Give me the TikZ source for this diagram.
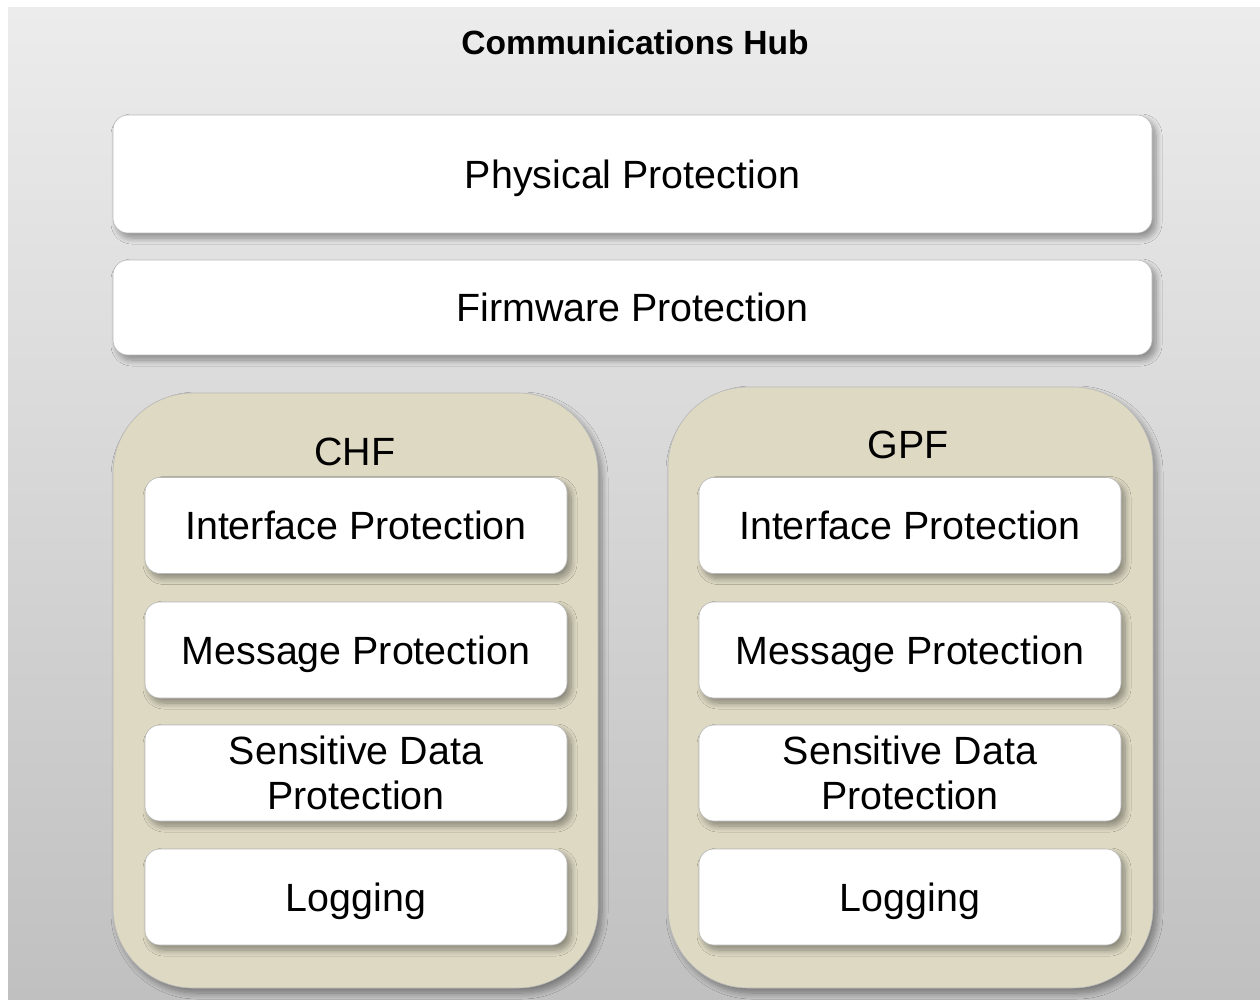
\documentclass[tikz,border=0pt]{standalone}
\usepackage{fontspec}
\setmainfont{Liberation Sans}
\usetikzlibrary{shadows.blur}
\definecolor{bgtop}{RGB}{236,236,236}
\definecolor{bgbot}{RGB}{192,192,192}
\definecolor{beige}{RGB}{221,217,195}
\definecolor{edgegray}{RGB}{185,185,185}
\tikzset{
  x=0.5pt, y=-0.5pt,
  softshadow/.style={blur shadow={shadow xshift=2pt, shadow yshift=-2.5pt, shadow blur steps=10, shadow blur radius=3pt, shadow opacity=38}},
  whitebox/.style={draw=edgegray, line width=0.3pt, fill=white, rounded corners=7.5pt, softshadow,
    font=\fontsize{19.7pt}{22.5pt}\selectfont, align=center, text=black, inner sep=0pt, text depth=0pt},
  bigbox/.style={whitebox, minimum width=519.5pt},
  innerbox/.style={whitebox, minimum width=211pt, minimum height=48pt},
  groupbox/.style={draw=edgegray, line width=0.3pt, fill=beige, rounded corners=40pt, softshadow, minimum width=242.5pt, inner sep=0pt},
  grouplabel/.style={font=\fontsize{19.7pt}{22.5pt}\selectfont, text=black, inner sep=0pt},
  titlelabel/.style={font=\bfseries\fontsize{16.8pt}{20pt}\selectfont, text=black, inner sep=0pt}
}
\begin{document}
\begin{tikzpicture}
\useasboundingbox (0,0) rectangle (1260,1000);
\fill[white] (0,0) rectangle (1260,1000);
\shade[top color=bgtop, bottom color=bgbot] (8,8) rectangle (1260,1000);
\node[titlelabel] (title) at (635,42) {Communications Hub};
\node[bigbox, minimum height=59pt] (phys) at (632.5,174) {Physical Protection};
\node[bigbox, minimum height=47.5pt] (firm) at (632.5,307.5) {Firmware Protection};
\node[groupbox, minimum height=297.5pt] (chf) at (355.5,690.5) {};
\node[groupbox, minimum height=300.5pt] (gpf) at (910.5,687.5) {};
\node[grouplabel] (chflabel) at (355,452) {CHF};
\node[grouplabel] (gpflabel) at (908,445) {GPF};
\node[innerbox] (chfint) at (356,525.5) {Interface Protection};
\node[innerbox] (chfmsg) at (356,650) {Message Protection};
\node[innerbox] (chfsens) at (356,773) {Sensitive Data\\Protection};
\node[innerbox] (chflog) at (356,897) {Logging};
\node[innerbox] (gpfint) at (910,525.5) {Interface Protection};
\node[innerbox] (gpfmsg) at (910,650) {Message Protection};
\node[innerbox] (gpfsens) at (910,773) {Sensitive Data\\Protection};
\node[innerbox] (gpflog) at (910,897) {Logging};
\end{tikzpicture}
\end{document}
